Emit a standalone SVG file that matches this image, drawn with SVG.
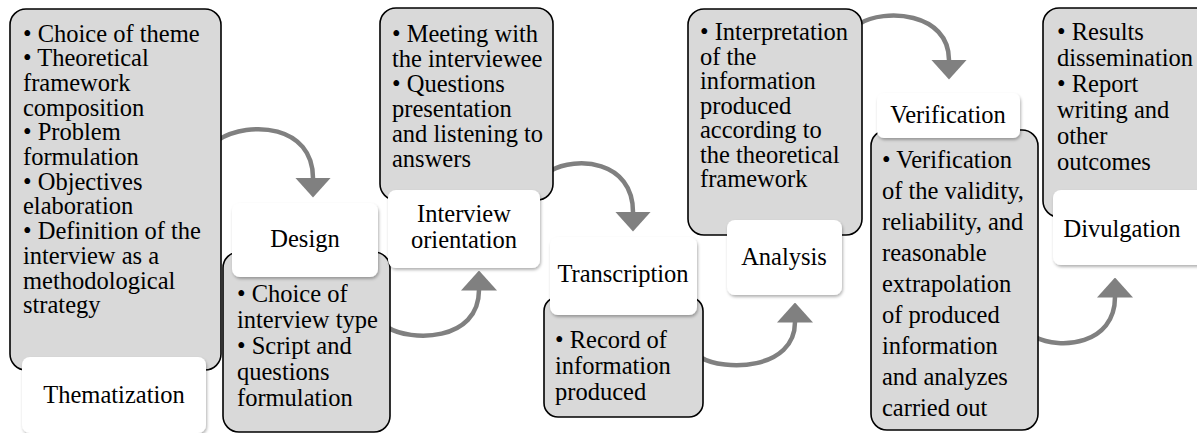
<svg xmlns="http://www.w3.org/2000/svg" width="1197" height="433" viewBox="0 0 1197 433">
<style>
  text { font-size: 24.5px; fill: #000; }
  .lbl { text-anchor: middle; }
  .gray { fill: #D9D9D9; stroke: #000; stroke-width: 1.6; }
  .white { fill: #FFFFFF; stroke: none; filter: url(#sh); }
  .conn { fill: none; stroke: #808080; stroke-width: 4.5; marker-end: url(#ah); }
</style>
<defs>
  <filter id="sh" x="-10%" y="-10%" width="130%" height="140%">
    <feDropShadow dx="1" dy="2" stdDeviation="1.6" flood-color="#000" flood-opacity="0.3"/>
  </filter>
  <marker id="ah" markerUnits="userSpaceOnUse" markerWidth="20" markerHeight="36" viewBox="0 0 20 36" refX="0.5" refY="18" orient="auto">
    <path d="M0,0 L20,18 L0,36 Z" fill="#808080"/>
  </marker>
</defs>
<rect width="1197" height="433" fill="#FFFFFF"/>

<g id="connectors">
  <path class="conn" d="M218,140 C250,120 313,125 313,178"/>
  <path class="conn" d="M387,327 C410,342 479,342 479,290"/>
  <path class="conn" d="M550,171 C576,156 633,160 633,212"/>
  <path class="conn" d="M700,357 C724,372 795,370 795,322"/>
  <path class="conn" d="M859,24 C884,8 949,12 949,60"/>
  <path class="conn" d="M1035,337 C1060,350 1115,345 1115,297"/>
</g>

<g id="thematization">
  <rect class="gray" x="10" y="9" width="211" height="361" rx="16"/>
  <text x="23" y="41.5" font-family="Liberation Serif, serif">
    <tspan x="23">• Choice of theme</tspan>
    <tspan x="23" dy="24.7">• Theoretical</tspan>
    <tspan x="23" dy="24.7">framework</tspan>
    <tspan x="23" dy="24.7">composition</tspan>
    <tspan x="23" dy="24.7">• Problem</tspan>
    <tspan x="23" dy="24.7">formulation</tspan>
    <tspan x="23" dy="24.7">• Objectives</tspan>
    <tspan x="23" dy="24.7">elaboration</tspan>
    <tspan x="23" dy="24.7">• Definition of the</tspan>
    <tspan x="23" dy="24.7">interview as a</tspan>
    <tspan x="23" dy="24.7">methodological</tspan>
    <tspan x="23" dy="24.7">strategy</tspan>
  </text>
  <rect class="white" x="22" y="357" width="184" height="76" rx="8"/>
  <text class="lbl" x="114" y="403" font-family="Liberation Serif, serif">Thematization</text>
</g>

<g id="design">
  <rect class="gray" x="223" y="252" width="167" height="180" rx="16"/>
  <text x="237" y="302" font-family="Liberation Serif, serif">
    <tspan x="237">• Choice of</tspan>
    <tspan x="237" dy="26">interview type</tspan>
    <tspan x="237" dy="26">• Script and</tspan>
    <tspan x="237" dy="26">questions</tspan>
    <tspan x="237" dy="26">formulation</tspan>
  </text>
  <rect class="white" x="232" y="203" width="146" height="74" rx="8"/>
  <text class="lbl" x="305" y="247" font-family="Liberation Serif, serif">Design</text>
</g>

<g id="interview-orientation">
  <rect class="gray" x="380" y="8" width="173" height="192" rx="16"/>
  <text x="392" y="42" font-family="Liberation Serif, serif">
    <tspan x="392">• Meeting with</tspan>
    <tspan x="392" dy="25">the interviewee</tspan>
    <tspan x="392" dy="25">• Questions</tspan>
    <tspan x="392" dy="25">presentation</tspan>
    <tspan x="392" dy="25">and listening to</tspan>
    <tspan x="392" dy="25">answers</tspan>
  </text>
  <rect class="white" x="388" y="190" width="152" height="78" rx="8"/>
  <text class="lbl" x="464" y="222" font-family="Liberation Serif, serif">Interview</text>
  <text class="lbl" x="464" y="248" font-family="Liberation Serif, serif">orientation</text>
</g>

<g id="transcription">
  <rect class="gray" x="544" y="297" width="159" height="120" rx="14"/>
  <text x="555" y="348" font-family="Liberation Serif, serif">
    <tspan x="555">• Record of</tspan>
    <tspan x="555" dy="26">information</tspan>
    <tspan x="555" dy="26">produced</tspan>
  </text>
  <rect class="white" x="550" y="237" width="147" height="78" rx="8"/>
  <text class="lbl" x="623" y="282" font-family="Liberation Serif, serif">Transcription</text>
</g>

<g id="analysis">
  <rect class="gray" x="688" y="9" width="174" height="226" rx="16"/>
  <text x="700" y="40" font-family="Liberation Serif, serif">
    <tspan x="700">• Interpretation</tspan>
    <tspan x="700" dy="24.5">of the</tspan>
    <tspan x="700" dy="24.5">information</tspan>
    <tspan x="700" dy="24.5">produced</tspan>
    <tspan x="700" dy="24.5">according to</tspan>
    <tspan x="700" dy="24.5">the theoretical</tspan>
    <tspan x="700" dy="24.5">framework</tspan>
  </text>
  <rect class="white" x="727" y="220" width="115" height="75" rx="8"/>
  <text class="lbl" x="784" y="265" font-family="Liberation Serif, serif">Analysis</text>
</g>

<g id="verification">
  <rect class="gray" x="871" y="130" width="167" height="300" rx="16"/>
  <text x="882" y="168" font-family="Liberation Serif, serif">
    <tspan x="882">• Verification</tspan>
    <tspan x="882" dy="31">of the validity,</tspan>
    <tspan x="882" dy="31">reliability, and</tspan>
    <tspan x="882" dy="31">reasonable</tspan>
    <tspan x="882" dy="31">extrapolation</tspan>
    <tspan x="882" dy="31">of produced</tspan>
    <tspan x="882" dy="31">information</tspan>
    <tspan x="882" dy="31">and analyzes</tspan>
    <tspan x="882" dy="31">carried out</tspan>
  </text>
  <rect class="white" x="877" y="93" width="143" height="45" rx="7"/>
  <text class="lbl" x="948" y="123" font-family="Liberation Serif, serif">Verification</text>
</g>

<g id="divulgation">
  <rect class="gray" x="1043" y="8" width="170" height="209" rx="16"/>
  <text x="1057" y="40" font-family="Liberation Serif, serif">
    <tspan x="1057">• Results</tspan>
    <tspan x="1057" dy="26">dissemination</tspan>
    <tspan x="1057" dy="26">• Report</tspan>
    <tspan x="1057" dy="26">writing and</tspan>
    <tspan x="1057" dy="26">other</tspan>
    <tspan x="1057" dy="26">outcomes</tspan>
  </text>
  <rect class="white" x="1053" y="190" width="160" height="75" rx="8"/>
  <text class="lbl" x="1122" y="237" font-family="Liberation Serif, serif">Divulgation</text>
</g>
</svg>
